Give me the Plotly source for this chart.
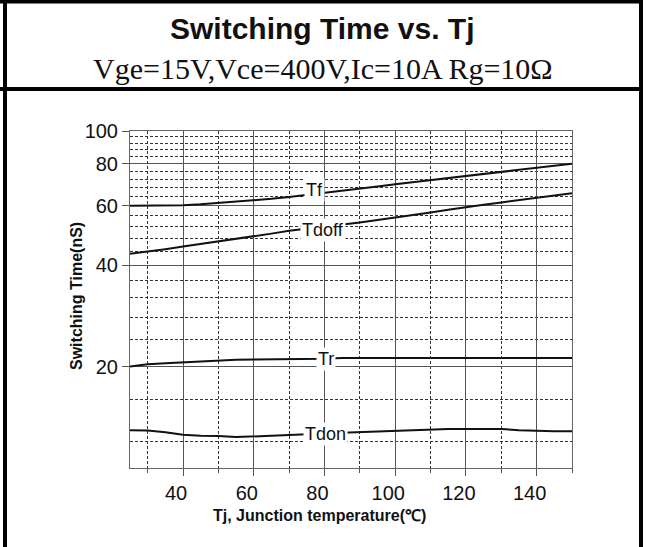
import math

import plotly.graph_objects as go

W, H = 646, 547
# plot area in pixels
L, R, T, B = 130, 572, 131, 468

tj = [25, 30, 35, 40, 45, 50, 55, 60, 65, 70, 75, 80, 85,
      90, 95, 100, 105, 110, 115, 120, 125, 130, 135, 140, 145, 150]

tf = [60.0, 60.0, 60.1, 60.2, 60.6, 61.1, 61.6, 62.2, 62.9, 63.7, 64.6, 65.5, 66.2,
      67.2, 68.4, 69.5, 70.5, 71.5, 72.5, 73.5, 74.6, 75.6, 76.7, 77.8, 78.9, 80.0]

tdoff = [43.2, 43.8, 44.6, 45.4, 46.2, 47.0, 47.8, 48.6, 49.6, 50.6, 51.3, 51.9, 52.7,
         53.5, 54.4, 55.3, 56.3, 57.3, 58.4, 59.5, 60.4, 61.4, 62.4, 63.4, 64.4, 65.4]

tr = [20.0, 20.3, 20.45, 20.6, 20.75, 20.9, 20.95, 21.0, 21.0, 21.0, 21.0, 21.1, 21.2,
      21.2, 21.2, 21.2, 21.2, 21.2, 21.2, 21.2, 21.2, 21.2, 21.2, 21.2, 21.2, 21.2]

tdon = [12.94, 12.91, 12.76, 12.56, 12.47, 12.45, 12.35, 12.40, 12.47, 12.53, 12.58, 12.65, 12.72,
        12.78, 12.82, 12.85, 12.92, 12.98, 13.05, 13.06, 13.06, 13.05, 12.95, 12.88, 12.85, 12.85]

series = [("Tf", tf, 77.1, 66.7), ("Tdoff", tdoff, 79.5, 50.7),
          ("Tr", tr, 80.3, 21.1), ("Tdon", tdon, 80.3, 12.6)]

x_major = [40, 60, 80, 100, 120, 140]
x_minor = [30, 50, 70, 90, 110, 130, 150]
y_major = [20, 40, 60, 80, 100]
y_minor = [v for v in range(12, 100, 4) if v % 20 != 0]

SANS = "Liberation Sans, Arial, sans-serif"
SERIF = "Liberation Serif, Times New Roman, serif"


def px_x(p):
    return (p - L) / (R - L)


def px_y(p):
    return (B - p) / (B - T)


def paper_text(x, y, text, size, family=SANS, **kw):
    fig.add_annotation(xref="paper", yref="paper", x=px_x(x), y=px_y(y),
                       xanchor="center", yanchor="middle", text=text, showarrow=False,
                       font=dict(family=family, size=size, color="#111111"), **kw)


fig = go.Figure()
for name, vals, lx, ly in series:
    fig.add_trace(go.Scatter(x=tj, y=vals, mode="lines", name=name,
                             line=dict(color="#111111", width=2), showlegend=False))
    # log axis: annotation y is given in log10 units
    fig.add_annotation(x=lx, y=math.log10(ly), text=name, showarrow=False,
                       xanchor="center", yanchor="middle",
                       font=dict(family=SANS, size=18, color="#111111"),
                       bgcolor="white", borderpad=1)

grid_major = "#555555"
grid_minor = "#333333"

fig.update_xaxes(
    range=[25, 150], tickvals=x_major, ticks="outside", ticklen=7, tickcolor=grid_major,
    showline=True, linecolor="#666666", mirror=True, linewidth=1,
    showgrid=True, gridcolor=grid_major, gridwidth=1,
    tickfont=dict(family=SANS, size=20, color="#111111"), ticklabelshift=-7,
    minor=dict(tickvals=x_minor, ticks="outside", ticklen=4, tickcolor=grid_major,
               showgrid=True, gridcolor=grid_minor, griddash="3px,2px", gridwidth=1),
    zeroline=False,
)
fig.update_yaxes(
    type="log", range=[1, 2], tickvals=y_major, ticktext=[str(v) for v in y_major],
    ticks="outside", ticklen=7, tickcolor=grid_major,
    showline=True, linecolor="#666666", mirror=True, linewidth=1,
    showgrid=True, gridcolor=grid_major, gridwidth=1,
    tickfont=dict(family=SANS, size=20, color="#111111"),
    minor=dict(tickvals=y_minor, ticks="", showgrid=True, gridcolor=grid_minor,
               griddash="3px,2px", gridwidth=1),
    zeroline=False,
)

# frame of the datasheet cell
for x0, y0, x1, y1 in [(5, 0, 5, H), (641, 0, 641, H), (0, 1.5, 643, 1.5), (0, 89, 643, 89)]:
    fig.add_shape(type="line", xref="paper", yref="paper",
                  x0=px_x(x0), y0=px_y(y0), x1=px_x(x1), y1=px_y(y1),
                  line=dict(color="black", width=4))

paper_text(322, 28, "<b>Switching Time vs. Tj</b>", 30)
paper_text(323, 68, "Vge=15V,Vce=400V,Ic=10A Rg=10Ω", 30, family=SERIF)
paper_text(319, 515, "<b>Tj, Junction temperature(℃)</b>", 16)
paper_text(76, 296, "<b>Switching Time(nS)</b>", 16, textangle=-90)

fig.update_layout(
    width=W, height=H, autosize=False,
    margin=dict(l=L, r=W - R, t=T, b=H - B),
    paper_bgcolor="white", plot_bgcolor="white",
)

fig.write_html("out.html", config={"displayModeBar": False},
               post_script="document.body.style.margin='0px';")
